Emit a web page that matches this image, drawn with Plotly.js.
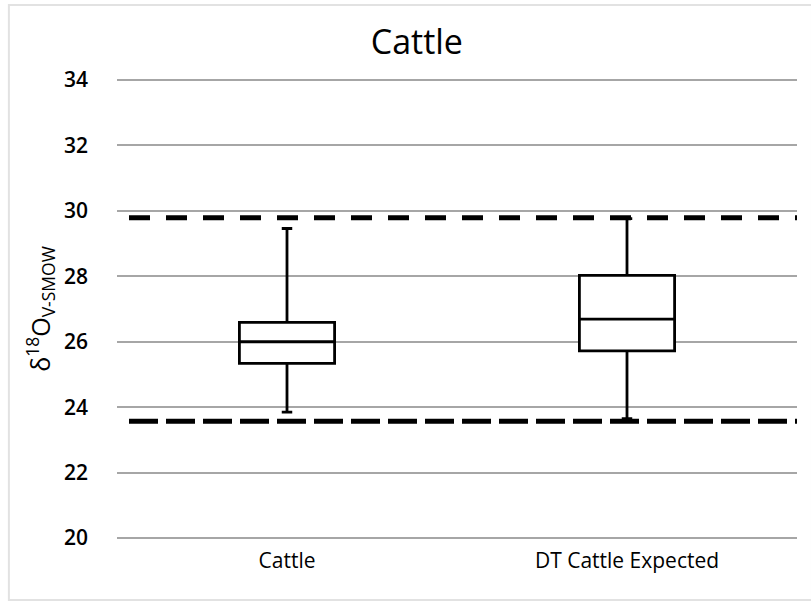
<!DOCTYPE html>
<html>
<head>
<meta charset="utf-8">
<script src="https://cdn.plot.ly/plotly-3.0.1.min.js"></script>
<style>
  html, body { margin: 0; padding: 0; background: #ffffff; }
  #chart { width: 811px; height: 602px; }
</style>
</head>
<body>
<div id="chart"></div>
<script>
// ---- data ----
const categories   = ["Cattle", "DT Cattle Expected"];
const lowerWhisker = [23.85, 23.65];
const q1Values     = [25.34, 25.72];
const medianValues = [26.00, 26.69];
const q3Values     = [26.59, 28.03];
const upperWhisker = [29.46, 29.76];
const yTickValues  = [20, 22, 24, 26, 28, 30, 32, 34];
const limitUpper   = 29.79;
const limitLower   = 23.57;

const boxTrace = {
  type: "box",
  x: categories,
  q1: q1Values,
  median: medianValues,
  q3: q3Values,
  lowerfence: lowerWhisker,
  upperfence: upperWhisker,
  boxpoints: false,
  fillcolor: "#ffffff",
  line: { color: "#000000", width: 2.8 },
  whiskerwidth: 0.11,
  hoverinfo: "skip",
  showlegend: false
};

const fontFam = "'Open Sans', 'Noto Sans', sans-serif";
// plot area: 32.71 px per unit; range padded by 0.15 so edge gridlines are drawn
const pad = 0.15;
const pxPerUnit = 458 / 14;

const layout = {
  width: 811,
  height: 602,
  margin: { l: 117, r: 14, t: Math.round(80 - pad * pxPerUnit), b: Math.round(64 - pad * pxPerUnit) },
  paper_bgcolor: "#ffffff",
  plot_bgcolor: "#ffffff",
  showlegend: false,
  boxgap: 0.6,
  title: {
    text: "Cattle",
    font: { family: fontFam, size: 34, color: "#000000", weight: 500 },
    xref: "container", x: 0.514, xanchor: "center",
    yref: "container", y: 0.93, yanchor: "middle"
  },
  xaxis: {
    type: "category",
    showgrid: false,
    zeroline: false,
    showline: false,
    ticks: "",
    tickfont: { family: fontFam, size: 21, color: "#000000", weight: 500 },
    ticklabelstandoff: 3
  },
  yaxis: {
    range: [20 - pad, 34 + pad],
    tickvals: yTickValues,
    ticktext: yTickValues.map(String),
    showgrid: true,
    gridcolor: "#a6a6a6",
    gridwidth: 2,
    zeroline: false,
    showline: false,
    ticks: "",
    ticklabelstandoff: 28,
    tickfont: { family: fontFam, size: 21, color: "#000000", weight: 600 },
    title: {
      text: "δ<sup>18</sup>O<sub>V-SMOW</sub>",
      font: { family: fontFam, size: 25, color: "#000000", weight: 500 },
      standoff: 6
    }
  },
  shapes: [
    {
      type: "line", layer: "above",
      xref: "paper", x0: (129 - 117) / 680, x1: 1,
      yref: "y", y0: limitUpper, y1: limitUpper,
      line: { color: "#000000", width: 5, dash: "21px,16px" }
    },
    {
      type: "line", layer: "above",
      xref: "paper", x0: (129 - 117) / 680, x1: 1,
      yref: "y", y0: limitLower, y1: limitLower,
      line: { color: "#000000", width: 5, dash: "29px,8px" }
    },
    {
      type: "rect", layer: "below",
      xref: "paper", x0: -0.159, x1: 1.022,
      yref: "paper", y0: -0.18, y1: 1.2,
      line: { color: "#e2e2e2", width: 2 },
      fillcolor: "rgba(0,0,0,0)"
    }
  ]
};

Plotly.newPlot("chart", [boxTrace], layout, { displayModeBar: false, staticPlot: true }).then(function (gd) {
  // place the frame exactly at the pixel positions of the reference border
  const fl = gd._fullLayout;
  const h = fl._size.h, t = fl._size.t;
  const toPaperY = function (py) { return (t + h - py) / h; };
  Plotly.relayout(gd, { "shapes[2].y0": toPaperY(600), "shapes[2].y1": toPaperY(5) });
});
</script>
</body>
</html>
